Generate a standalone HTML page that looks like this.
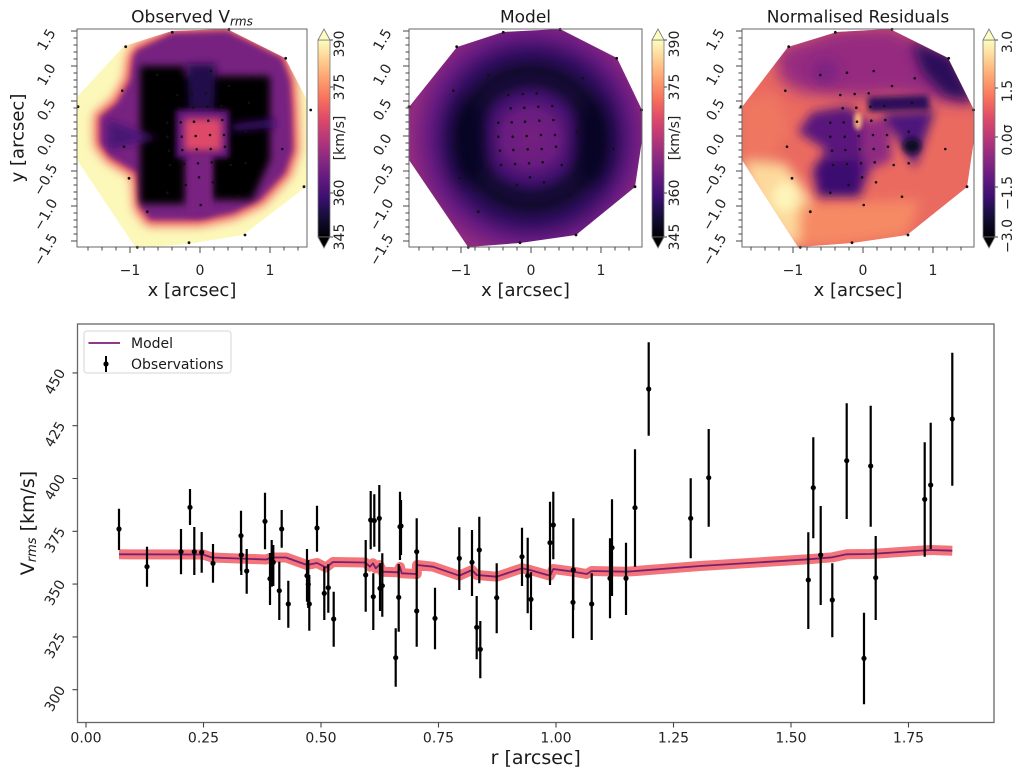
<!DOCTYPE html>
<html><head><meta charset="utf-8">
<style>
html,body{margin:0;padding:0;background:#fff;}
svg{display:block;font-family:"DejaVu Sans","Liberation Sans",sans-serif;}
</style></head><body>
<svg width="1024" height="777" viewBox="0 0 1024 777" xmlns="http://www.w3.org/2000/svg">
<defs>
<linearGradient id="magma" x1="0" y1="1" x2="0" y2="0">
 <stop offset="0" stop-color="#000004"/>
 <stop offset="0.1" stop-color="#140e36"/>
 <stop offset="0.2" stop-color="#3b0f70"/>
 <stop offset="0.3" stop-color="#641a80"/>
 <stop offset="0.4" stop-color="#8c2981"/>
 <stop offset="0.5" stop-color="#b73779"/>
 <stop offset="0.6" stop-color="#de4968"/>
 <stop offset="0.7" stop-color="#f7705c"/>
 <stop offset="0.8" stop-color="#fe9f6d"/>
 <stop offset="0.9" stop-color="#fecf92"/>
 <stop offset="1" stop-color="#fcfdbf"/>
</linearGradient>
<radialGradient id="rg2" gradientUnits="userSpaceOnUse" cx="531" cy="138" r="120">
 <stop offset="0" stop-color="#74207f"/>
 <stop offset="0.22" stop-color="#6a1c80"/>
 <stop offset="0.36" stop-color="#42106e"/>
 <stop offset="0.47" stop-color="#170b38"/>
 <stop offset="0.57" stop-color="#120a30"/>
 <stop offset="0.7" stop-color="#300d5e"/>
 <stop offset="0.85" stop-color="#661a80"/>
 <stop offset="1" stop-color="#8f2a81"/>
</radialGradient>
<filter id="b2" x="-30%" y="-30%" width="160%" height="160%"><feGaussianBlur stdDeviation="2"/></filter>
<filter id="b3" x="-30%" y="-30%" width="160%" height="160%"><feGaussianBlur stdDeviation="3"/></filter>
<filter id="b4" x="-30%" y="-30%" width="160%" height="160%"><feGaussianBlur stdDeviation="4"/></filter>
<filter id="b5" x="-30%" y="-30%" width="160%" height="160%"><feGaussianBlur stdDeviation="5"/></filter>
<filter id="b6" x="-30%" y="-30%" width="160%" height="160%"><feGaussianBlur stdDeviation="6"/></filter>
<filter id="b8" x="-40%" y="-40%" width="180%" height="180%"><feGaussianBlur stdDeviation="8"/></filter>
<clipPath id="box1"><rect x="77" y="29" width="230" height="218"/></clipPath>
<clipPath id="box2"><rect x="409" y="29" width="233" height="218"/></clipPath>
<clipPath id="box3"><rect x="742" y="29" width="232" height="218"/></clipPath>
<clipPath id="h1"><polygon points="172,31 227,29 285,58 295,77 307,100 307,186 243,235 188,244 136,248 77,160 77,97 124,46"/></clipPath>
<clipPath id="h2"><polygon points="409,107 457,47 503,32 560,29 617,58 642,110 642,140 635,187 576,235 520,243 468,247 409,160"/></clipPath>
<clipPath id="h3"><polygon points="742,107 788,47 837,32 890,29 948,58 974,110 974,140 967,187 907,235 852,243 798,247 742,160"/></clipPath>
<pattern id="ptl" patternUnits="userSpaceOnUse" x="0" y="30.5" width="10" height="7"><rect x="0" y="0" width="10" height="1" fill="#444"/></pattern>
<pattern id="ptb1" patternUnits="userSpaceOnUse" x="87.5" y="0" width="14" height="10"><rect x="0" y="0" width="1" height="10" fill="#444"/></pattern>
<pattern id="ptb2" patternUnits="userSpaceOnUse" x="418.5" y="0" width="14" height="10"><rect x="0" y="0" width="1" height="10" fill="#444"/></pattern>
<pattern id="ptb3" patternUnits="userSpaceOnUse" x="750.5" y="0" width="14" height="10"><rect x="0" y="0" width="1" height="10" fill="#444"/></pattern>
<g id="dots" fill="#111">
 <circle cx="-16" cy="-63.3" r="1.3"/><circle cx="10.7" cy="-65" r="1.3"/><circle cx="51.7" cy="-57.7" r="1.3"/>
 <circle cx="-22.7" cy="-41" r="1.3"/><circle cx="-8.3" cy="-42" r="1.3"/><circle cx="5.7" cy="-42.7" r="1.3"/>
 <circle cx="-20.3" cy="-27.7" r="1.3"/><circle cx="-6.7" cy="-28.3" r="1.3"/><circle cx="7.3" cy="-29.3" r="1.3"/><circle cx="21.3" cy="-30" r="1.3"/>
 <circle cx="-32.7" cy="-13.3" r="1.3"/><circle cx="-19.3" cy="-13.7" r="1.3"/><circle cx="-6" cy="-14.3" r="1.3"/><circle cx="8.3" cy="-15.3" r="1.3"/><circle cx="22.3" cy="-16" r="1.3"/>
 <circle cx="-32.7" cy="0.7" r="1.3"/><circle cx="-18.3" cy="0.7" r="1.3"/><circle cx="-4.3" cy="0" r="1.3"/><circle cx="10" cy="-1" r="1.3"/><circle cx="24" cy="-1" r="1.3"/>
 <circle cx="-31" cy="14.7" r="1.3"/><circle cx="-17.7" cy="14" r="1.3"/><circle cx="-3.3" cy="13.3" r="1.3"/><circle cx="10.7" cy="13" r="1.3"/><circle cx="25" cy="10.7" r="1.3"/>
 <circle cx="-30" cy="29" r="1.3"/><circle cx="-16" cy="28" r="1.3"/><circle cx="-2" cy="27.3" r="1.3"/><circle cx="11.7" cy="26.3" r="1.3"/><circle cx="30.7" cy="29" r="1.3"/>
 <circle cx="-1" cy="41.3" r="1.3"/><circle cx="13" cy="46.3" r="1.3"/><circle cx="-14.3" cy="49" r="1.3"/><circle cx="0.7" cy="69" r="1.3"/><circle cx="-32.7" cy="56.7" r="1.3"/>
 <circle cx="-74.3" cy="-89.3" r="1.4"/><circle cx="-27.7" cy="-103.7" r="1.4"/><circle cx="29" cy="-106.7" r="1.4"/><circle cx="85.7" cy="-77.7" r="1.4"/>
 <circle cx="110.7" cy="-26" r="1.4"/><circle cx="104" cy="50.7" r="1.4"/><circle cx="45" cy="99" r="1.4"/><circle cx="-11" cy="106.7" r="1.4"/>
 <circle cx="-62.7" cy="111.3" r="1.4"/><circle cx="-122" cy="-29.3" r="1.4"/><circle cx="-52.7" cy="75.7" r="1.4"/><circle cx="-71" cy="42.3" r="1.4"/>
 <circle cx="-77.7" cy="-45.3" r="1.3"/><circle cx="-76" cy="10.7" r="1.3"/><circle cx="-42.7" cy="-61" r="1.3"/><circle cx="45.7" cy="-4.3" r="1.3"/>
 <circle cx="82.3" cy="13" r="1.3"/><circle cx="45.7" cy="27.3" r="1.3"/><circle cx="49" cy="-33.3" r="1.3"/><circle cx="39" cy="60.7" r="1.3"/><circle cx="29" cy="-50" r="1.3"/>
</g>
</defs>

<!-- ================= PANEL 1 : Observed ================= -->
<g clip-path="url(#box1)"><g clip-path="url(#h1)">
 <rect x="70" y="20" width="245" height="235" fill="#fcf8b9"/>
 <g filter="url(#b5)"><polygon points="137,50 172,33 227,31 282,58 290,80 292,110 293,150 285,173 260,200 233,213 200,220 150,220 140,207 137,173 110,157 100,143 100,117 117,103 130,80 133,57" fill="#ef6160" stroke="#ef6160" stroke-width="12" stroke-linejoin="round"/></g>
 <g filter="url(#b3)"><polygon points="137,50 172,33 227,31 282,58 290,80 292,110 293,150 285,173 260,200 233,213 200,220 150,220 140,207 137,173 110,157 100,143 100,117 117,103 130,80 133,57" fill="#772181"/></g>
 <g filter="url(#b4)" fill="#000004">
  <rect x="140" y="66" width="45" height="138"/>
  <rect x="140" y="76" width="130" height="36"/>
  <polygon points="212,80 270,80 270,160 252,200 212,200"/>
 </g>
 <g filter="url(#b4)">
  <polygon points="187,64 216,64 214,110 189,110" fill="#240b4c"/>
  <polygon points="108,120 157,138 108,150" fill="#4a1276"/>
  <polygon points="233,124 275,119 275,127 233,131" fill="#3e1172"/>
 </g>
 <g filter="url(#b3)">
  <rect x="176" y="110" width="53" height="48" fill="#5e187d"/>
  <rect x="189" y="155" width="22" height="60" fill="#7a2381"/>
 </g>
 <g filter="url(#b4)"><rect x="184" y="118" width="38" height="33" fill="#de4a6a"/></g>
</g></g>
<g transform="translate(200,136)"><use href="#dots"/></g>

<!-- ================= PANEL 2 : Model ================= -->
<g clip-path="url(#box2)"><g clip-path="url(#h2)">
 <rect x="400" y="20" width="250" height="235" fill="url(#rg2)"/>
 <g filter="url(#b8)" fill="#06041a" fill-opacity="0.7">
  <ellipse cx="470" cy="142" rx="16" ry="42"/>
  <ellipse cx="592" cy="142" rx="16" ry="42"/>
 </g>
</g></g>
<g transform="translate(531,136)"><use href="#dots"/></g>

<!-- ================= PANEL 3 : Residuals ================= -->
<g clip-path="url(#box3)"><g clip-path="url(#h3)">
 <rect x="735" y="20" width="245" height="235" fill="#ea6a60"/>
 <g filter="url(#b8)"><polygon points="775,50 837,28 890,26 950,52 975,105 935,100 895,95 860,98 830,95 800,92 780,80" fill="#952c80"/></g>
 <g filter="url(#b6)">
  <polygon points="912,42 952,56 975,102 945,96 922,72" fill="#2b0c5a"/>
  <ellipse cx="825" cy="72" rx="13" ry="13" fill="#7c2382"/>
  <polygon points="742,162 785,163 812,200 808,247 790,245 760,215" fill="#fdd99c"/>
  <polygon points="800,205 920,200 907,235 852,243 798,247" fill="#f68a65"/>
  <polygon points="742,100 775,95 790,130 770,160 742,160" fill="#ef7760"/>
 </g>
 <g filter="url(#b5)">
  <ellipse cx="785" cy="197" rx="12" ry="15" fill="#fdf5bb"/>
  <polygon points="862,120 890,118 892,160 870,170 862,150" fill="#8e2a81"/>
  <polygon points="812,112 848,106 862,118 862,152 870,170 860,197 818,197 812,170 826,150 798,132" fill="#5a167d"/>
  <polygon points="818,162 858,160 858,195 820,195" fill="#3a0f6f"/>
  <polygon points="882,113 935,110 915,168" fill="#4d127b"/>
 </g>
 <g filter="url(#b3)">
  <polygon points="868,97 928,95 930,110 868,112" fill="#2d0d5c"/>
  <ellipse cx="912" cy="146" rx="9" ry="8" fill="#0e0826"/>
 </g>
 <g filter="url(#b2)"><ellipse cx="858" cy="121" rx="4" ry="9" fill="#fcb27b"/></g>
</g></g>
<g transform="translate(863,136)"><use href="#dots"/></g>

<!-- axes frames & ticks top panels -->
<g fill="none" stroke="#666" stroke-width="1">
 <rect x="77" y="29" width="230" height="218"/>
 <rect x="409" y="29" width="233" height="218"/>
 <rect x="742" y="29" width="232" height="218"/>
</g>
<rect x="73.5" y="30" width="3.5" height="212" fill="url(#ptl)"/>
<rect x="405.5" y="30" width="3.5" height="212" fill="url(#ptl)"/>
<rect x="738.5" y="30" width="3.5" height="212" fill="url(#ptl)"/>
<rect x="80" y="247" width="226" height="3.5" fill="url(#ptb1)"/>
<rect x="410" y="247" width="231" height="3.5" fill="url(#ptb2)"/>
<rect x="743" y="247" width="230" height="3.5" fill="url(#ptb3)"/>
<g stroke="#444" stroke-width="1">
 <path d="M77 31h-6M77 66h-6M77 101h-6M77 136h-6M77 171h-6M77 206h-6M77 241h-6"/>
 <path d="M409 31h-6M409 66h-6M409 101h-6M409 136h-6M409 171h-6M409 206h-6M409 241h-6"/>
 <path d="M742 31h-6M742 66h-6M742 101h-6M742 136h-6M742 171h-6M742 206h-6M742 241h-6"/>
 <path d="M130 247v6M200 247v6M270 247v6M461 247v6M531 247v6M601 247v6M793 247v6M863 247v6M933 247v6"/>
</g>

<!-- colorbars -->
<g stroke="#777" stroke-width="0.8">
 <rect x="318" y="40" width="12" height="197" fill="url(#magma)"/>
 <polygon points="318,40 324,29 330,40" fill="#fcfdbf"/>
 <polygon points="318,237 324,248 330,237" fill="#000004"/>
 <rect x="652" y="40" width="12" height="197" fill="url(#magma)"/>
 <polygon points="652,40 658,29 664,40" fill="#fcfdbf"/>
 <polygon points="652,237 658,248 664,237" fill="#000004"/>
 <rect x="983" y="40" width="12" height="197" fill="url(#magma)"/>
 <polygon points="983,40 989,29 995,40" fill="#fcfdbf"/>
 <polygon points="983,237 989,248 995,237" fill="#000004"/>
</g>
<g stroke="#444" stroke-width="1">
 <path d="M330 40h3M330 87h3M330 193h3M330 237h3M664 40h3M664 87h3M664 193h3M664 237h3M995 40h3M995 88h3M995 137h3M995 187h3M995 237h3"/>
</g>

<g fill="#222" font-size="14" text-anchor="middle" dominant-baseline="central">
 <text transform="translate(340,44) rotate(-90)">390</text>
 <text transform="translate(340,87) rotate(-90)">375</text>
 <text transform="translate(340,138) rotate(-90)">[km/s]</text>
 <text transform="translate(340,193) rotate(-90)">360</text>
 <text transform="translate(340,237) rotate(-90)">345</text>
 <text transform="translate(675,44) rotate(-90)">390</text>
 <text transform="translate(675,87) rotate(-90)">375</text>
 <text transform="translate(675,138) rotate(-90)">[km/s]</text>
 <text transform="translate(675,193) rotate(-90)">360</text>
 <text transform="translate(675,237) rotate(-90)">345</text>
 <text transform="translate(1008,42) rotate(-90)">3.0</text>
 <text transform="translate(1008,91) rotate(-90)">1.5</text>
 <text transform="translate(1008,140) rotate(-90)">0.0σ</text>
 <text transform="translate(1008,193) rotate(-90)">−1.5</text>
 <text transform="translate(1008,236) rotate(-90)">−3.0</text>
</g>

<!-- top panel y tick labels (rotated) -->
<g fill="#222" font-size="14" text-anchor="middle" dominant-baseline="central">
 <text transform="translate(47,40) rotate(-60)">1.5</text>
 <text transform="translate(47,75) rotate(-60)">1.0</text>
 <text transform="translate(47,110) rotate(-60)">0.5</text>
 <text transform="translate(47,145) rotate(-60)">0.0</text>
 <text transform="translate(46,180) rotate(-60)">−0.5</text>
 <text transform="translate(46,215) rotate(-60)">−1.0</text>
 <text transform="translate(46,250) rotate(-60)">−1.5</text>
 <text transform="translate(383,40) rotate(-60)">1.5</text>
 <text transform="translate(383,75) rotate(-60)">1.0</text>
 <text transform="translate(383,110) rotate(-60)">0.5</text>
 <text transform="translate(383,145) rotate(-60)">0.0</text>
 <text transform="translate(382,180) rotate(-60)">−0.5</text>
 <text transform="translate(382,215) rotate(-60)">−1.0</text>
 <text transform="translate(382,250) rotate(-60)">−1.5</text>
 <text transform="translate(716,40) rotate(-60)">1.5</text>
 <text transform="translate(716,75) rotate(-60)">1.0</text>
 <text transform="translate(716,110) rotate(-60)">0.5</text>
 <text transform="translate(716,145) rotate(-60)">0.0</text>
 <text transform="translate(715,180) rotate(-60)">−0.5</text>
 <text transform="translate(715,215) rotate(-60)">−1.0</text>
 <text transform="translate(715,250) rotate(-60)">−1.5</text>
</g>
<g fill="#222" font-size="14" text-anchor="middle">
 <text x="130" y="275">−1</text><text x="200" y="275">0</text><text x="270" y="275">1</text>
 <text x="461" y="275">−1</text><text x="531" y="275">0</text><text x="601" y="275">1</text>
 <text x="793" y="275">−1</text><text x="863" y="275">0</text><text x="933" y="275">1</text>
</g>
<g fill="#1a1a1a" font-size="18" text-anchor="middle">
 <text x="192" y="296">x [arcsec]</text>
 <text x="525.5" y="296">x [arcsec]</text>
 <text x="858" y="296">x [arcsec]</text>
 <text transform="translate(18,138) rotate(-90)" dominant-baseline="central">y [arcsec]</text>
</g>
<g fill="#1a1a1a" font-size="17" text-anchor="middle">
 <text x="192" y="22.5">Observed V<tspan font-size="12" font-style="italic" dy="3">rms</tspan></text>
 <text x="525.5" y="22.5">Model</text>
 <text x="858" y="22.5">Normalised Residuals</text>
</g>

<!-- ================= BOTTOM CHART ================= -->
<polyline fill="none" stroke="#f37579" stroke-width="10" stroke-linejoin="round" points="119,554.3 203,554.5 212,557.5 266,559.5 272,557.5 286,557.5 307,565 317,563 326,567.5 333,562 365,562.5 370,566.7 373,563.3 375.7,568.3 379.3,565 382.3,571.7 398,572.3 400,567 401.7,573.3 416.7,574 417,565 433,566.7 459.3,575.7 472,570 476.7,575 496.7,576.7 522,568.3 530,570 550,575.7 553.3,569 573.3,571.7 586.7,574 591.7,571 626.7,571.7 700,566 808.3,559.3 832.3,557.3 846.7,554.3 870.7,554 930.7,550 952.3,550.7"/>
<polyline fill="none" stroke="#7a1f70" stroke-width="1.8" stroke-linejoin="round" points="119,554.3 203,554.5 212,557.5 266,559.5 272,557.5 286,557.5 307,565 317,563 326,567.5 333,562 365,562.5 370,566.7 373,563.3 375.7,568.3 379.3,565 382.3,571.7 398,572.3 400,567 401.7,573.3 416.7,574 417,565 433,566.7 459.3,575.7 472,570 476.7,575 496.7,576.7 522,568.3 530,570 550,575.7 553.3,569 573.3,571.7 586.7,574 591.7,571 626.7,571.7 700,566 808.3,559.3 832.3,557.3 846.7,554.3 870.7,554 930.7,550 952.3,550.7"/>

<path fill="none" stroke="#000" stroke-width="2.2" d="M119 508.7V550M147 546.7V586.7M181 529V574.3M190 489V525M194.3 527V575M201.7 532V572.7M213 544V582.7M241 510.7V571M241.3 535V575M246.7 549V593.7M265 492.7V549.3M270 553V605M271.7 540V586.7M273.3 545V586M281.7 510V547.7M279.3 561.7V620M288.3 580.7V627.7M307 549V601.7M308.3 560V608M309.3 575V630.7M317 505.7V551.7M324.3 566.7V620M328.3 564.3V612.7M333.7 591.7V646.7M365.7 540V611.7M370.7 491V549.3M373.3 573.3V630M374.3 494.3V546.7M379.3 485V551.7M380 563.3V611M382.3 553.3V616.7M395.7 628.3V686.7M398.7 564V631.7M400 491.7V560M401 500V555M416.7 518.3V585M416.7 576.7V646.7M435 587.7V649.3M459.3 527.3V590M472 530V596M476.7 596V659.3M479.3 516.7V583.3M480.3 621V678.3M496.7 563.3V633.3M522 527.7V586M527.7 537.7V613.3M531 572.3V630M550 501.7V585M553.3 491.7V559.3M573.3 518.3V610M573 575V638.3M591.7 573.3V640M610 538.3V618.3M612 499.3V596M626 542.7V615M635 449.3V566.7M648.7 342.3V435.7M690.7 478.3V558.3M708.7 429V526.7M808.3 532.3V629M813.3 437.3V538.3M820.7 506V605M832.3 563.3V637.3M846.7 403.3V519M864 612.7V704.3M870.7 405.7V526.7M875.7 536V620M924.7 442.3V556.7M930.7 422.7V549M952.3 352.7V485.7"/>
<g fill="#000">
 <circle cx="119" cy="529" r="2.6"/><circle cx="147" cy="566.7" r="2.6"/><circle cx="181" cy="551.7" r="2.6"/><circle cx="190" cy="507.3" r="2.6"/><circle cx="194.3" cy="551.7" r="2.6"/><circle cx="201.7" cy="552.3" r="2.6"/><circle cx="213" cy="563.3" r="2.6"/><circle cx="241" cy="535.7" r="2.6"/><circle cx="241.3" cy="555" r="2.6"/><circle cx="246.7" cy="571" r="2.6"/><circle cx="265" cy="521.3" r="2.6"/><circle cx="270" cy="578.7" r="2.6"/><circle cx="271.7" cy="558.3" r="2.6"/><circle cx="273.3" cy="562.3" r="2.6"/><circle cx="281.7" cy="529" r="2.6"/><circle cx="279.3" cy="590.7" r="2.6"/><circle cx="288.3" cy="604" r="2.6"/><circle cx="307" cy="575.7" r="2.6"/><circle cx="308.3" cy="584.3" r="2.6"/><circle cx="309.3" cy="604" r="2.6"/><circle cx="317" cy="528" r="2.6"/><circle cx="324.3" cy="593.3" r="2.6"/><circle cx="328.3" cy="587.7" r="2.6"/><circle cx="333.7" cy="619" r="2.6"/>
 <circle cx="365.7" cy="575" r="2.6"/><circle cx="370.7" cy="520" r="2.6"/><circle cx="373.3" cy="596.7" r="2.6"/><circle cx="374.3" cy="520.7" r="2.6"/><circle cx="379.3" cy="518.3" r="2.6"/><circle cx="380" cy="588.3" r="2.6"/><circle cx="382.3" cy="585.7" r="2.6"/><circle cx="395.7" cy="657.7" r="2.6"/><circle cx="398.7" cy="597.3" r="2.6"/><circle cx="400" cy="526.7" r="2.6"/><circle cx="401" cy="526" r="2.6"/><circle cx="416.7" cy="551.7" r="2.6"/><circle cx="416.7" cy="611" r="2.6"/><circle cx="435" cy="618.3" r="2.6"/><circle cx="459.3" cy="558.3" r="2.6"/><circle cx="472" cy="562.3" r="2.6"/><circle cx="476.7" cy="627.3" r="2.6"/><circle cx="479.3" cy="550" r="2.6"/><circle cx="480.3" cy="649.3" r="2.6"/><circle cx="496.7" cy="597.7" r="2.6"/><circle cx="522" cy="556.7" r="2.6"/><circle cx="527.7" cy="575.7" r="2.6"/><circle cx="531" cy="599.3" r="2.6"/><circle cx="550" cy="542.7" r="2.6"/><circle cx="553.3" cy="525" r="2.6"/><circle cx="573.3" cy="570" r="2.6"/><circle cx="573" cy="602.3" r="2.6"/><circle cx="591.7" cy="604" r="2.6"/><circle cx="610" cy="578.3" r="2.6"/><circle cx="612" cy="547.7" r="2.6"/><circle cx="626" cy="578.3" r="2.6"/><circle cx="635" cy="507.7" r="2.6"/><circle cx="648.7" cy="389" r="2.6"/>
 <circle cx="690.7" cy="518.3" r="2.6"/><circle cx="708.7" cy="477.7" r="2.6"/><circle cx="808.3" cy="580" r="2.6"/><circle cx="813.3" cy="487.7" r="2.6"/><circle cx="820.7" cy="555" r="2.6"/><circle cx="832.3" cy="600" r="2.6"/><circle cx="846.7" cy="460.7" r="2.6"/><circle cx="864" cy="658.3" r="2.6"/><circle cx="870.7" cy="466" r="2.6"/><circle cx="875.7" cy="577.7" r="2.6"/><circle cx="924.7" cy="499.3" r="2.6"/><circle cx="930.7" cy="485" r="2.6"/><circle cx="952.3" cy="419" r="2.6"/>
</g>

<rect x="77.5" y="324" width="916.5" height="398.5" fill="none" stroke="#666" stroke-width="1.3"/>
<g stroke="#444" stroke-width="1.1">
 <path d="M86 722.5v5M203.5 722.5v5M321 722.5v5M438.5 722.5v5M556 722.5v5M673.5 722.5v5M791 722.5v5M908.5 722.5v5"/>
 <path d="M77.5 689.7h-5M77.5 636.9h-5M77.5 584.1h-5M77.5 531.3h-5M77.5 478.5h-5M77.5 425.7h-5M77.5 372.9h-5"/>
</g>
<g fill="#222" font-size="14" text-anchor="middle">
 <text x="86" y="742.5">0.00</text><text x="203.5" y="742.5">0.25</text><text x="321" y="742.5">0.50</text><text x="438.5" y="742.5">0.75</text><text x="556" y="742.5">1.00</text><text x="673.5" y="742.5">1.25</text><text x="791" y="742.5">1.50</text><text x="908.5" y="742.5">1.75</text>
</g>
<g fill="#222" font-size="14" text-anchor="middle" dominant-baseline="central">
 <text transform="translate(55.5,699) rotate(-60)">300</text>
 <text transform="translate(55.5,646) rotate(-60)">325</text>
 <text transform="translate(55.5,593) rotate(-60)">350</text>
 <text transform="translate(55.5,540.3) rotate(-60)">375</text>
 <text transform="translate(55.5,487.5) rotate(-60)">400</text>
 <text transform="translate(55.5,434.7) rotate(-60)">425</text>
 <text transform="translate(55.5,382) rotate(-60)">450</text>
</g>
<text x="535.7" y="764" font-size="19" text-anchor="middle" fill="#1a1a1a">r [arcsec]</text>
<text transform="translate(28,523) rotate(-90)" font-size="19" text-anchor="middle" dominant-baseline="central" fill="#1a1a1a">V<tspan font-size="13" font-style="italic" dy="4">rms</tspan><tspan dy="-4"> [km/s]</tspan></text>

<!-- legend -->
<rect x="84" y="331" width="147" height="42" rx="3" fill="#fff" fill-opacity="0.85" stroke="#d6d6d6" stroke-width="1"/>
<line x1="88.5" y1="343" x2="120" y2="343" stroke="#8d3a8d" stroke-width="2"/>
<line x1="106" y1="356" x2="106" y2="372" stroke="#000" stroke-width="2"/>
<circle cx="106" cy="364" r="2.6" fill="#000"/>
<g fill="#1a1a1a" font-size="14">
 <text x="131" y="348">Model</text>
 <text x="131" y="369">Observations</text>
</g>
</svg>
</body></html>
